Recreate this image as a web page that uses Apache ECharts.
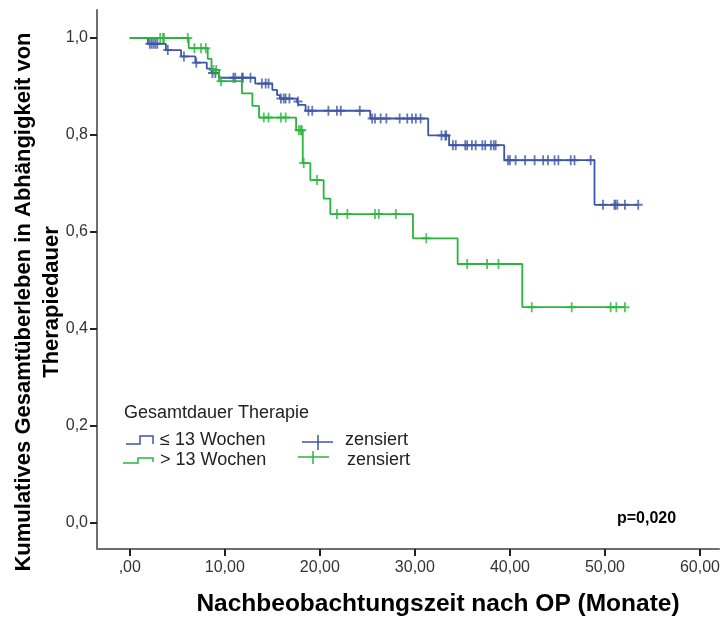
<!DOCTYPE html>
<html><head><meta charset="utf-8">
<script src="https://cdn.jsdelivr.net/npm/echarts@6/dist/echarts.min.js"></script>
<style>html,body{margin:0;padding:0;background:#fff}#c{width:723px;height:619px}</style>
</head><body><div id="c"></div>
<script>
// ---- data ----
const xTicks = [0, 10, 20, 30, 40, 50, 60];
const xTickLabels = [',00', '10,00', '20,00', '30,00', '40,00', '50,00', '60,00'];
const yTicks = [0, 0.2, 0.4, 0.6, 0.8, 1.0];
const yTickLabels = ['0,0', '0,2', '0,4', '0,6', '0,8', '1,0'];

// group "<= 13 Wochen": event times and survival after each event
const blueTimes = [0, 1.9, 3.8, 5.4, 6.9, 8.1, 8.6, 9.4, 13.2, 15.0, 15.5, 15.8, 17.6, 17.8, 18.5, 25.3, 31.4, 33.6, 39.4, 48.9];
const blueSurv  = [1.0, 0.988, 0.975, 0.962, 0.949, 0.937, 0.928, 0.918, 0.906, 0.893, 0.882, 0.875, 0.869, 0.862, 0.850, 0.834, 0.799, 0.779, 0.748, 0.656];
const blueCensor = [2.1, 2.3, 2.5, 2.7, 2.9, 4.0, 5.7, 7.0, 8.7, 9.0, 10.9, 11.1, 11.8, 11.9, 12.7, 13.9, 14.3, 14.6,
  15.9, 16.2, 16.4, 16.8, 17.7, 18.8, 19.2, 20.9, 21.8, 22.2, 24.2, 25.5, 25.8, 26.4, 27.0, 28.4, 29.2, 29.7, 30.1, 30.6,
  32.8, 33.2, 33.3, 34.0, 34.3, 35.3, 35.5, 36.0, 36.4, 37.1, 37.4, 38.0, 38.3, 38.5, 39.8, 40.0, 40.6, 41.6, 42.6, 43.5,
  44.0, 44.7, 45.1, 46.4, 46.8, 48.5, 49.8, 51.0, 51.1, 51.3, 52.1, 53.5];

// group "> 13 Wochen"
const greenTimes = [0, 6.2, 8.2, 8.6, 9.4, 11.8, 12.9, 13.6, 17.5, 18.2, 19.0, 20.4, 21.1, 29.8, 34.5, 41.3];
const greenSurv  = [1.0, 0.979, 0.957, 0.934, 0.911, 0.886, 0.860, 0.836, 0.810, 0.742, 0.707, 0.669, 0.637, 0.587, 0.534, 0.445];
const greenCensor = [3.2, 3.5, 3.6, 6.1, 6.8, 7.5, 8.0, 8.8, 9.1, 9.6, 14.1, 14.6, 15.9, 16.4, 17.8, 18.0, 18.1, 18.3,
  19.7, 21.8, 22.9, 25.8, 26.2, 28.0, 31.2, 35.5, 37.6, 38.8, 42.3, 46.5, 50.6, 51.2, 52.1];

const pText = 'p=0,020';
const legendTitle = 'Gesamtdauer Therapie';
const groupNames = ['≤ 13 Wochen', '> 13 Wochen'];
const censorName = 'zensiert';
const xTitle = 'Nachbeobachtungszeit nach OP (Monate)';
const yTitle = 'Kumulatives Gesamtüberleben in Abhängigkeit von\nTherapiedauer';

// ---- build ----
const BLUE = '#3d56a6', GREEN = '#2bb53c';
const FONT = '"Liberation Sans", Arial, sans-serif';
function survAt(times, surv, t) {
  let s = surv[0];
  for (let i = 0; i < times.length; i++) if (times[i] <= t) s = surv[i];
  return s;
}
function stepData(times, surv, censor) {
  const d = times.map((t, i) => [t, surv[i]]);
  const end = Math.max(censor[censor.length - 1], times[times.length - 1]);
  d.push([end, survAt(times, surv, end)]);
  return d;
}
function censorData(times, surv, censor) {
  return censor.map(t => [t, survAt(times, surv, t)]);
}
const plus = 'path://M4,0 H6 V4 H10 V6 H6 V10 H4 V6 H0 V4 H4 Z';
function lbl(ticks, labels) {
  return v => { for (let i = 0; i < ticks.length; i++) if (Math.abs(ticks[i] - v) < 1e-6) return labels[i]; return ''; };
}

const chart = echarts.init(document.getElementById('c'), null, {renderer: 'canvas'});
chart.setOption({
  animation: false,
  backgroundColor: '#fff',
  grid: {left: 97, right: 0, top: 10, bottom: 70, containLabel: false},
  xAxis: {
    type: 'value', min: -3.45, max: 62.0,
    axisLine: {show: true, onZero: false, lineStyle: {color: '#6e6e6e', width: 2}},
    axisTick: {show: true, customValues: xTicks, length: 7, lineStyle: {color: '#222', width: 2}},
    axisLabel: {customValues: xTicks, formatter: lbl(xTicks, xTickLabels), color: '#333', fontSize: 16, fontFamily: FONT, margin: 11},
    splitLine: {show: false}
  },
  yAxis: {
    type: 'value', min: -0.0536, max: 1.0577,
    axisLine: {show: true, onZero: false, lineStyle: {color: '#6e6e6e', width: 2}},
    axisTick: {show: true, customValues: yTicks, length: 7, lineStyle: {color: '#222', width: 2}},
    axisLabel: {customValues: yTicks, formatter: lbl(yTicks, yTickLabels), color: '#333', fontSize: 16, fontFamily: FONT, margin: 9},
    splitLine: {show: false}
  },
  series: [
    {type: 'line', step: 'end', data: stepData(blueTimes, blueSurv, blueCensor), symbol: 'none',
     lineStyle: {color: BLUE, width: 1.8}, z: 2},
    {type: 'scatter', data: censorData(blueTimes, blueSurv, blueCensor), symbol: plus, symbolSize: [9, 10],
     itemStyle: {color: BLUE}, z: 3},
    {type: 'line', step: 'end', data: stepData(greenTimes, greenSurv, greenCensor), symbol: 'none',
     lineStyle: {color: GREEN, width: 1.8}, z: 4},
    {type: 'scatter', data: censorData(greenTimes, greenSurv, greenCensor), symbol: plus, symbolSize: [9, 10],
     itemStyle: {color: GREEN}, z: 5}
  ],
  graphic: [
    {type: 'text', x: 38, y: 302, rotation: Math.PI / 2,
     style: {text: yTitle, font: 'bold 22px ' + FONT, fill: '#000', align: 'center', verticalAlign: 'middle', lineHeight: 28}},
    {type: 'text', x: 438, y: 604,
     style: {text: xTitle, font: 'bold 24.5px ' + FONT, fill: '#000', align: 'center', verticalAlign: 'middle'}},
    {type: 'text', x: 617, y: 519,
     style: {text: pText, font: 'bold 16px ' + FONT, fill: '#000', align: 'left', verticalAlign: 'middle'}},
    {type: 'text', x: 124, y: 413,
     style: {text: legendTitle, font: '18px ' + FONT, fill: '#222', align: 'left', verticalAlign: 'middle'}},
    {type: 'polyline', shape: {points: [[126, 444], [140, 444], [140, 436], [153, 436], [153, 444]]},
     style: {stroke: BLUE, lineWidth: 1.5, fill: null}},
    {type: 'polyline', shape: {points: [[123, 463], [138, 463], [138, 458], [153, 458], [153, 462]]},
     style: {stroke: GREEN, lineWidth: 1.5, fill: null}},
    {type: 'text', x: 160, y: 440,
     style: {text: groupNames[0], font: '18px ' + FONT, fill: '#222', align: 'left', verticalAlign: 'middle'}},
    {type: 'text', x: 160, y: 460,
     style: {text: groupNames[1], font: '18px ' + FONT, fill: '#222', align: 'left', verticalAlign: 'middle'}},
    {type: 'line', shape: {x1: 302, y1: 442, x2: 333, y2: 442}, style: {stroke: BLUE, lineWidth: 1.5}},
    {type: 'line', shape: {x1: 318, y1: 435, x2: 318, y2: 450}, style: {stroke: BLUE, lineWidth: 1.5}},
    {type: 'line', shape: {x1: 298, y1: 457, x2: 329, y2: 457}, style: {stroke: GREEN, lineWidth: 1.5}},
    {type: 'line', shape: {x1: 313, y1: 451, x2: 313, y2: 464}, style: {stroke: GREEN, lineWidth: 1.5}},
    {type: 'text', x: 345, y: 440,
     style: {text: censorName, font: '18px ' + FONT, fill: '#222', align: 'left', verticalAlign: 'middle'}},
    {type: 'text', x: 347, y: 460,
     style: {text: censorName, font: '18px ' + FONT, fill: '#222', align: 'left', verticalAlign: 'middle'}}
  ]
});
</script>
</body></html>
